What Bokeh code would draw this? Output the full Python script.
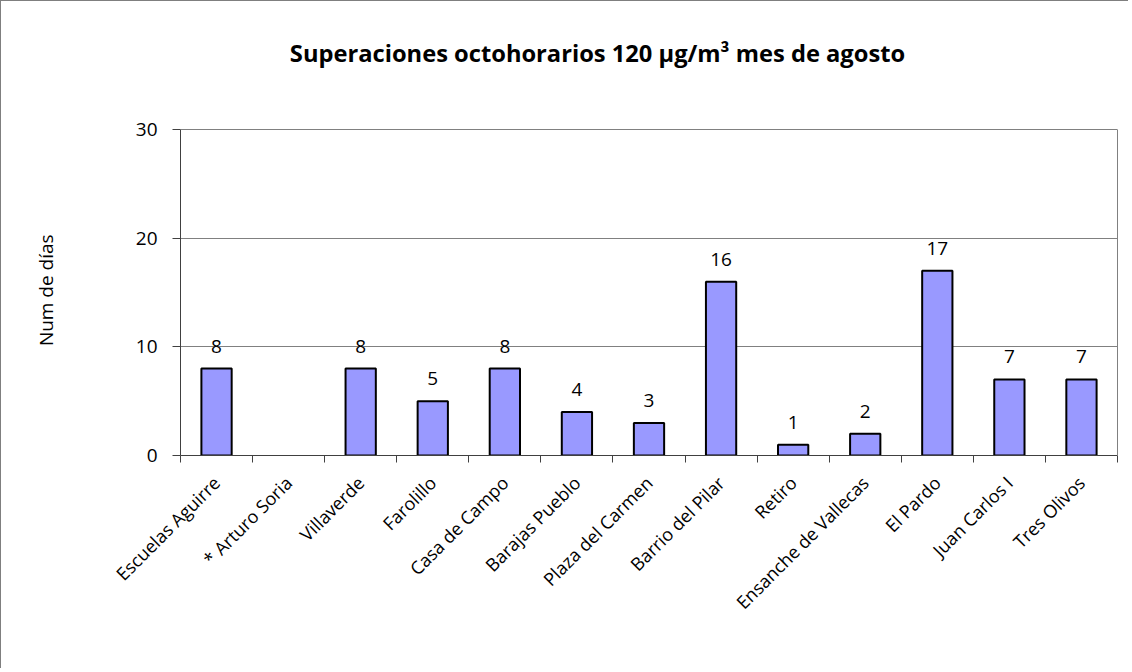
import math
from bokeh.plotting import figure
from bokeh.models import FixedTicker, Range1d, ColumnDataSource, Label, LinearAxis
from bokeh.core.properties import value
from bokeh.embed import file_html
from bokeh.resources import INLINE

stations = ["Escuelas Aguirre", "* Arturo Soria", "Villaverde", "Farolillo",
            "Casa de Campo", "Barajas Pueblo", "Plaza del Carmen", "Barrio del Pilar",
            "Retiro", "Ensanche de Vallecas", "El Pardo", "Juan Carlos I", "Tres Olivos"]
days = [8, 0, 8, 5, 8, 4, 3, 16, 1, 2, 17, 7, 7]
y_ticks = [0, 10, 20, 30]
title_text = "Superaciones octohorarios 120 µg/m³ mes de agosto"
y_label = "Num de días"

FONT = "Open Sans"
n = len(stations)
xs = [i + 0.5 for i in range(n)]
Y_MAX = y_ticks[-1]

# layout (pixels)
W, H = 1128, 668
MB_LEFT, MB_RIGHT, MB_TOP, MB_BOTTOM = 179, 12, 19, 214
AXIS_PX = 326          # pixel height of the 0..30 axis
frame_h = H - MB_TOP - MB_BOTTOM
y_end = Y_MAX * frame_h / AXIS_PX   # frame extends above 30 to host the title

keep = [i for i, d in enumerate(days) if d > 0]
src = ColumnDataSource(dict(
    x=[xs[i] for i in keep], top=[days[i] for i in keep],
    lab=[str(days[i]) for i in keep],
))

p = figure(width=W, height=H, output_backend="svg", toolbar_location=None,
           x_range=Range1d(0, n), y_range=Range1d(0, y_end),
           min_border_left=MB_LEFT, min_border_right=MB_RIGHT, min_border_top=MB_TOP,
           min_border_bottom=MB_BOTTOM)
p.styles = {"border-left": "1px solid #7f7f7f", "border-top": "1px solid #7f7f7f"}
p.outline_line_color = None
p.background_fill_color = "white"
p.border_fill_color = "white"

p.vbar(x="x", top="top", width=0.42, source=src, fill_color="#9999FF",
       line_color="black", line_width=2)
p.text(x="x", y="top", text="lab", source=src, y_offset=-16,
       text_align="center", text_baseline="bottom",
       text_font=value(FONT), text_font_size="19px", text_color="black")

# grid
p.xgrid.visible = False
p.ygrid.ticker = FixedTicker(ticks=y_ticks)
p.ygrid.grid_line_color = "#808080"
p.ygrid.grid_line_width = 1

# y axis
p.yaxis.bounds = (0, Y_MAX)
p.yaxis.ticker = FixedTicker(ticks=y_ticks)
p.yaxis.minor_tick_line_color = None
p.yaxis.major_tick_out = 8
p.yaxis.major_tick_in = 0
p.yaxis.axis_line_color = "#404040"
p.yaxis.major_tick_line_color = "#404040"
p.yaxis.major_label_text_font = FONT
p.yaxis.major_label_text_font_size = "19px"
p.yaxis.major_label_text_color = "black"
p.yaxis.major_label_standoff = 15
# en spaces after the label keep it centred on the 0..30 span rather than the frame
p.yaxis.axis_label = y_label + "\u2002" * 11
p.yaxis.axis_label_text_font = FONT
p.yaxis.axis_label_text_font_style = "normal"
p.yaxis.axis_label_text_font_size = "19px"
p.yaxis.axis_label_text_color = "black"
p.yaxis.axis_label_standoff = 74

# right border of the plot area
right = LinearAxis(bounds=(0, Y_MAX), ticker=FixedTicker(ticks=[]),
                   axis_line_color="#808080", major_tick_line_color=None,
                   minor_tick_line_color=None, major_label_text_alpha=0)
p.add_layout(right, "right")

# x axis
p.xaxis.ticker = FixedTicker(ticks=xs, minor_ticks=list(range(n + 1)))
p.xaxis.major_label_overrides = {x: s for x, s in zip(xs, stations)}
p.xaxis.major_tick_line_color = None
p.xaxis.minor_tick_line_color = "#404040"
p.xaxis.minor_tick_out = 7
p.xaxis.minor_tick_in = 0
p.xaxis.axis_line_color = "#404040"
p.xaxis.major_label_orientation = math.pi / 4
p.xaxis.major_label_text_font = FONT
p.xaxis.major_label_text_font_size = "18px"
p.xaxis.major_label_text_color = "black"
p.xaxis.major_label_standoff = 17

p.add_layout(Label(x=417, y=403, x_units="screen", y_units="screen",
                   text=title_text, text_align="center", text_baseline="middle",
                   text_font=FONT, text_font_style="bold", text_font_size="23.7px",
                   text_color="black"))

open("out.html", "w").write(file_html(p, INLINE))
